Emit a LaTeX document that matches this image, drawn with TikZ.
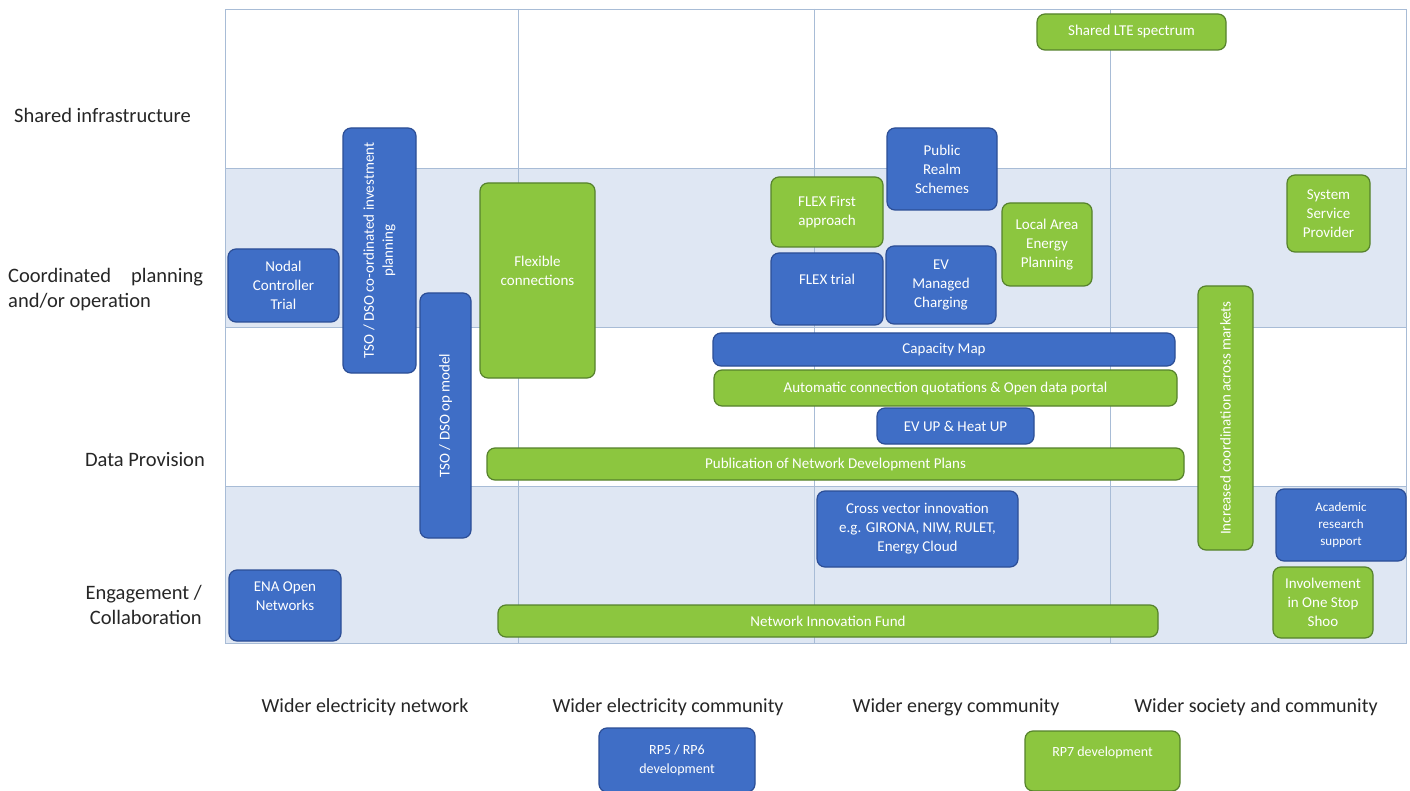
\documentclass[tikz,border=0pt]{standalone}
\usepackage{fontspec}
\setmainfont{Carlito}
\definecolor{cblue}{RGB}{63,110,198}
\definecolor{cblueline}{RGB}{44,78,150}
\definecolor{cgreen}{RGB}{140,198,63}
\definecolor{cgreenline}{RGB}{86,130,44}
\definecolor{band}{RGB}{223,231,243}
\definecolor{gridc}{RGB}{168,188,214}
\definecolor{labelc}{RGB}{38,38,38}
\begin{document}
\begin{tikzpicture}[x=1pt,y=-1pt,
  box/.style={rounded corners=8pt, line width=1.2pt, inner sep=2pt, outer sep=0pt,
    align=center, text=white, font=\fontsize{15}{19}\selectfont},
  bluebox/.style={box, fill=cblue, draw=cblueline},
  greenbox/.style={box, fill=cgreen, draw=cgreenline},
  rowlabel/.style={text=labelc, font=\fontsize{20.5}{25}\selectfont, inner sep=0pt},
  collabel/.style={text=labelc, font=\fontsize{20}{25}\selectfont, inner sep=0pt},
  gridline/.style={draw=gridc, line width=0.9pt}]
\useasboundingbox (0,0) rectangle (1410,791);
\fill[white] (0,0) rectangle (1410,791);

% shaded bands and grid
\fill[band] (225,168) rectangle (1406,327);
\fill[band] (225,486) rectangle (1406,643);
\draw[gridline] (225,9) rectangle (1406,643);
\foreach \gx in {518,814,1110} \draw[gridline] (\gx,9) -- (\gx,643);
\foreach \gy in {168,327,486} \draw[gridline] (225,\gy) -- (1406,\gy);

% row labels
\node[rowlabel, anchor=west] (rshared) at (14,115) {Shared infrastructure};
\node[rowlabel, anchor=west, align=left] (rcoord) at (8,289.5) {Coordinated\hspace{20pt}planning\\and/or operation};
\node[rowlabel, anchor=east] (rdata) at (205,460) {Data Provision};
\node[rowlabel, anchor=east, align=right] (rengage) at (202,605) {Engagement /\\Collaboration};

% column labels
\node[collabel] (cnet) at (365,707) {Wider electricity network};
\node[collabel] (ccomm) at (668,707) {Wider electricity community};
\node[collabel] (cenergy) at (956,707) {Wider energy community};
\node[collabel] (csoc) at (1256,707) {Wider society and community};

% shared infrastructure
\node[greenbox, minimum width=189, minimum height=36] (lte) at (1131.5,32) {Shared LTE spectrum};

% coordinated planning and/or operation
\node[bluebox, rotate=90, minimum width=245, minimum height=73] (tsoinv) at (379.5,250.5) {TSO / DSO co-ordinated investment\\planning};
\node[bluebox, minimum width=111, minimum height=73] (nodal) at (283.5,285.5) {Nodal\\Controller\\Trial};
\node[bluebox, rotate=90, minimum width=245, minimum height=51] (tsoop) at (445.5,415.5) {TSO / DSO op model};
\node[greenbox, minimum width=115, minimum height=195] (flexconn) at (537.5,280.5) {Flexible\\connections\\ };
\node[greenbox, minimum width=112, minimum height=70] (flexfirst) at (827,212) {FLEX First\\approach};
\node[bluebox, minimum width=112, minimum height=72] (flextrial) at (827,289) {FLEX trial\\ };
\node[bluebox, minimum width=110, minimum height=82] (realm) at (942,169) {Public\\Realm\\Schemes};
\node[bluebox, minimum width=110, minimum height=78] (evcharge) at (941,285) {EV\\Managed\\Charging};
\node[greenbox, minimum width=90, minimum height=83] (laep) at (1047,244.5) {Local Area\\Energy\\Planning};
\node[greenbox, minimum width=83, minimum height=77] (ssp) at (1328.5,213.5) {System\\Service\\Provider};
\node[greenbox, rotate=90, minimum width=264, minimum height=55] (markets) at (1225.5,418) {Increased coordination across markets};

% data provision
\node[bluebox, minimum width=462, minimum height=33] (capmap) at (944,349.5) {Capacity Map};
\node[greenbox, minimum width=463, minimum height=36] (autoq) at (945.5,388) {Automatic connection quotations \& Open data portal};
\node[bluebox, minimum width=157, minimum height=36] (evup) at (955.5,426) {EV UP \& Heat UP};
\node[greenbox, minimum width=697, minimum height=32] (ndp) at (835.5,464) {Publication of Network Development Plans};

% engagement / collaboration
\node[bluebox, minimum width=201, minimum height=76] (crossv) at (917.5,529) {Cross vector innovation\\e.g. GIRONA, NIW, RULET,\\Energy Cloud};
\node[bluebox, minimum width=130, minimum height=72, font=\fontsize{13}{17}\selectfont] (academic) at (1341,525) {Academic\\research\\support};
\node[bluebox, minimum width=112, minimum height=71] (ena) at (285,605.5) {ENA Open\\Networks\\ };
\node[greenbox, minimum width=660, minimum height=32] (nif) at (828,621) {Network Innovation Fund};
\node[greenbox, minimum width=100, minimum height=71] (oss) at (1323,602.5) {Involvement\\in One Stop\\Shoo};

% legend boxes
\node[bluebox, minimum width=156, minimum height=64, font=\fontsize{14}{19}\selectfont] (rp56) at (677,760) {RP5 / RP6\\development};
\node[greenbox, minimum width=155, minimum height=60, font=\fontsize{14}{19}\selectfont] (rp7) at (1102.5,761) {RP7 development\\ };
\end{tikzpicture}
\end{document}
